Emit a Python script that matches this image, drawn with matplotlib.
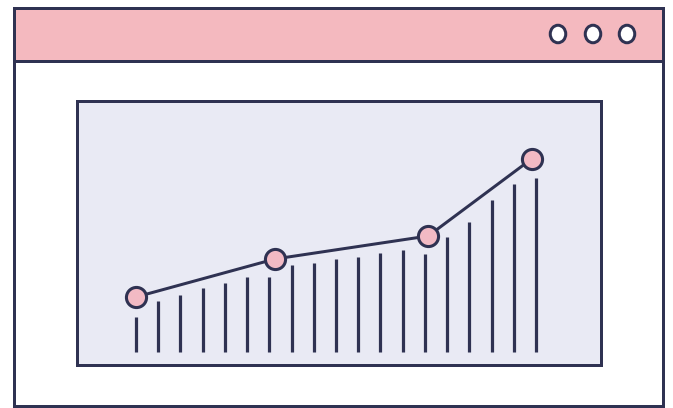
import matplotlib
matplotlib.use("Agg")
import matplotlib.pyplot as plt
from matplotlib.patches import Rectangle, Ellipse

navy = "#2f3252"
pink = "#f4b9bf"
dot_pink = "#f2bac4"
panel = "#e9eaf4"

# bar heights (19 bars)
bar_x = list(range(19))
bar_h = [35, 51, 57, 64, 69, 75, 75, 87, 89, 93, 95, 99, 102, 98, 115, 130, 152, 168, 174]
# line with 4 markers
pt_x = [0, 6.25, 13.15, 17.8]
pt_y = [55, 93, 116, 193]

W, H = 673, 408
fig = plt.figure(figsize=(W / 100, H / 100), dpi=100)
fig.patch.set_facecolor("white")

# browser window frame, drawn in pixel space
bg = fig.add_axes([0, 0, 1, 1])
bg.set_xlim(0, W)
bg.set_ylim(H, 0)
bg.axis("off")
lw = 3 * 0.72
bg.add_patch(Rectangle((14, 8), 649, 398, facecolor="white", edgecolor=navy, lw=lw))
bg.add_patch(Rectangle((14, 8), 649, 53, facecolor=pink, edgecolor=navy, lw=lw))
for cx in [558, 593, 627]:
    bg.add_patch(Ellipse((cx, 34), 15.5, 17.5, facecolor="white", edgecolor=navy, lw=3 * 0.72))

# inner chart panel
l, r, t, b = 77, 601, 101, 365
ax = fig.add_axes([l / W, (H - b) / H, (r - l) / W, (b - t) / H])
ax.set_facecolor(panel)
for s in ax.spines.values():
    s.set_color(navy)
    s.set_linewidth(lw)
ax.set_xticks([])
ax.set_yticks([])
step = 22.22
ax.set_xlim((l - 136) / step, (r - 136) / step)
ax.set_ylim(352 - b, 352 - t)

ax.vlines(bar_x, 0, bar_h, color=navy, lw=3.2 * 0.72, capstyle="butt")
ax.plot(pt_x, pt_y, color=navy, lw=lw, marker="o", markersize=14.5,
        markerfacecolor=dot_pink, markeredgecolor=navy, markeredgewidth=2.2, zorder=3)

fig.savefig("out.png", dpi=100)
